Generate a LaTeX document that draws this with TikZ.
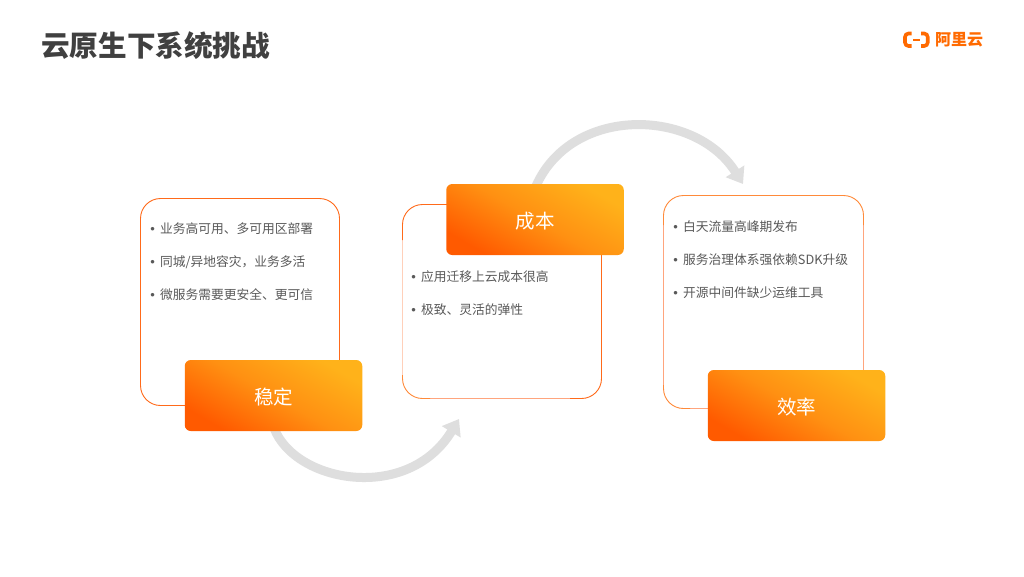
\documentclass[tikz,border=0pt]{standalone}
\usepackage{fontspec}
\setmainfont{Noto Sans CJK SC}
\newfontfamily\latinf{Liberation Sans}
\usetikzlibrary{arrows.meta}
\definecolor{ora}{HTML}{FF6A1A}
\definecolor{orb}{HTML}{FFA57D}
\definecolor{orc}{HTML}{FF8A3A}
\definecolor{ord}{HTML}{FFD0BA}
\definecolor{arcg}{HTML}{DEDEDE}
\definecolor{txt}{HTML}{595959}
\definecolor{ttl}{HTML}{404040}
\definecolor{logoc}{HTML}{FF6A00}
\definecolor{gradlo}{HTML}{FF5A00}
\definecolor{gradmid}{HTML}{FF9012}
\definecolor{gradhi}{HTML}{FFB21A}
\newcommand{\bul}{\hbox to 9pt{\hskip-.8pt\textcolor{txt}{\latinf\fontsize{13}{13}\selectfont•}\hss}}
\tikzset{
  x=1pt,y=-1pt,
  card/.style={line width=.9pt,draw=#1,rounded corners=20pt},
  card/.default=ora,
  tag/.style={rounded corners=6pt,minimum width=177.5pt,minimum height=71pt,inner sep=0pt,
    shading=axis,bottom color=gradlo,top color=gradhi,middle color=gradmid,shading angle=-30},
  tagtext/.style={inner sep=0pt,text=white,font=\fontsize{19.5}{20}\selectfont},
  item/.style={anchor=west,inner sep=0pt,text=txt,font=\fontsize{12.75}{13}\selectfont},
  flow/.style={line width=9pt,draw=arcg,-{Triangle[length=15pt,width=21pt,fill=arcg]}},
}
\begin{document}
\begin{tikzpicture}
\useasboundingbox (0,0) rectangle (1024,576);
\fill[white] (0,0) rectangle (1024,576);
\node[anchor=west,inner sep=0pt,text=ttl,font=\fontsize{28.6}{30}\selectfont\bfseries] (title) at (41,45.5) {云原生下系统挑战};
% logo
\node[anchor=west,inner sep=0pt,text=logoc,font=\fontsize{16}{16}\selectfont\bfseries] (logotext) at (935,40) {阿里云};
\draw[logoc,line width=3.6pt,rounded corners=3.5pt] (911.5,33.5) -- (905,33.5) -- (905,46) -- (911.5,46);
\draw[logoc,line width=3.6pt,rounded corners=3.5pt] (921,33.5) -- (927.7,33.5) -- (927.7,46) -- (921,46);
\draw[logoc,line width=1.6pt] (913,39.8) -- (920,39.8);
% cards
\draw[card] (190,405.5) -- (140.5,405.5) -- (140.5,198.5) -- (339.5,198.5) -- (339.5,365);
\draw[card=ord] (402.5,240) -- (402.5,375);
\draw[card=orb] (430,398.5) -- (570,398.5);
\draw[card=orc] (402.5,375) -- (402.5,398.5) -- (430,398.5);
\draw[card] (601.5,255) -- (601.5,398.5) -- (570,398.5);
\draw[card] (450,204.5) -- (402.5,204.5) -- (402.5,240);
\draw[card=orb] (663.5,225) -- (663.5,385);
\draw[card=orb] (710,408.5) -- (690,408.5);
\draw[card=orc] (690,408.5) -- (663.5,408.5) -- (663.5,385);
\draw[card=orb] (863.5,225) -- (863.5,375);
\draw[card=orc] (663.5,225) -- (663.5,195.5) -- (863.5,195.5) -- (863.5,225);
% arrows
\coordinate (a1s) at (274,428);
\coordinate (a1e) at (459,419);
\coordinate (a2s) at (536,186);
\coordinate (a2e) at (743,184);
\draw[flow] (a1s) .. controls (295,483) and (408,503) .. (a1e);
\draw[flow] (a2s) .. controls (572,105) and (695,108) .. (a2e);
% tags
\node[tag] (wen) at (273.5,395.5) {};
\node[tag] (cost) at (535,219.5) {};
\node[tag] (eff) at (796.5,405.5) {};
\node[tagtext] (wenl) at (273.5,397) {稳定};
\node[tagtext] (costl) at (535,221) {成本};
\node[tagtext] (effl) at (796.5,407) {效率};
% text
\node[item] (t11) at (151,228.7) {\bul 业务高可用、多可用区部署};
\node[item] (t12) at (151,262) {\bul 同城/异地容灾，业务多活};
\node[item] (t13) at (151,294.7) {\bul 微服务需要更安全、更可信};
\node[item] (t21) at (412,276.7) {\bul 应用迁移上云成本很高};
\node[item] (t22) at (412,309.7) {\bul 极致、灵活的弹性};
\node[item] (t31) at (674,226.7) {\bul 白天流量高峰期发布};
\node[item] (t32) at (674,259.7) {\bul 服务治理体系强依赖SDK升级};
\node[item] (t33) at (674,292.7) {\bul 开源中间件缺少运维工具};
\end{tikzpicture}
\end{document}
